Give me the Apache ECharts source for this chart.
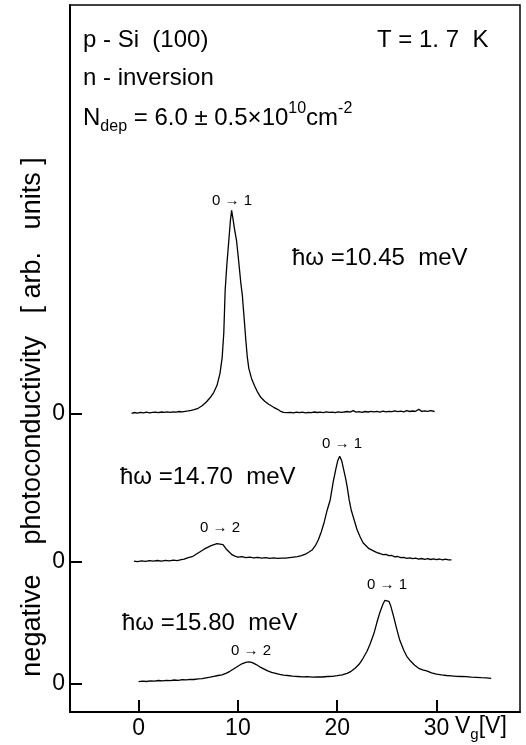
<!DOCTYPE html>
<html><head><meta charset="utf-8">
<script src="https://cdn.jsdelivr.net/npm/echarts@6/dist/echarts.min.js"></script>
<style>html,body{margin:0;padding:0;background:#fff}#c{width:526px;height:745px}</style>
</head><body><div id="c"></div>
<script>
// Vg [V] , signal (arb. units, offset from each trace's own zero)
const trace1045 = [[-0.7,0],[-0.4,0.8],[-0.1,0.2],[0.2,1.0],[0.5,0.4],[0.8,1.1],[1.1,0.5],[1.4,0.9],[1.7,1.2],[2.0,0.7],[2.3,1.3],[2.6,0.9],[2.9,1.4],[3.2,1.0],[3.5,1.5],[3.8,1.2],[4.1,1.8],[4.4,1.4],[4.7,2.0],[5.0,2.4],[5.3,2.9],[5.6,3.6],
[6.0,5],[6.4,7.5],[6.8,11],[7.2,15.5],[7.58,21],[7.9,28],[8.2,40],[8.42,56],[8.58,80],[8.72,123],[8.9,150],[9.09,173],[9.25,193],[9.37,203],[9.5,195],[9.65,185],[9.86,173],[10.0,160],[10.15,145],[10.3,130],[10.45,118],[10.55,105],[10.67,90],[10.8,73],[10.94,57],[11.1,45],[11.4,34],[11.7,27],[11.94,22],[12.3,16],[12.7,12],[13.1,9],[13.6,6],[14.0,4],[14.3,2],[14.6,1],
[15.0,0.6],[15.3,1.0],[15.6,0.4],[15.9,1.1],[16.2,0.6],[16.5,1.2],[16.8,0.5],[17.1,1.0],[17.4,0.7],[17.7,1.3],[18.0,0.8],[18.3,1.1],[18.6,0.6],[18.9,1.4],[19.2,0.9],[19.5,1.2],[19.8,0.7],[20.1,1.5],[20.4,1.0],[20.7,1.3],[21.0,1.8],[21.3,1.1],[21.6,2.6],[21.9,1.2],[22.2,1.6],[22.5,1.0],[22.8,1.8],[23.1,1.3],[23.4,2.0],[23.7,1.4],[24.0,1.9],[24.3,1.2],[24.6,2.2],[24.9,1.5],[25.2,2.0],[25.5,1.6],[25.8,2.4],[26.1,1.7],[26.4,2.2],[26.7,1.5],[27.0,2.6],[27.3,1.8],[27.6,2.3],[27.9,2.0],[28.2,4.0],[28.5,1.9],[28.8,2.5],[29.1,2.0],[29.4,2.6],[29.8,1.8]];

const trace1470 = [[-0.47,0.5],[-0.1,0],[0.3,0.8],[0.7,0.3],[1.1,1.0],[1.5,0.5],[1.9,1.2],[2.3,0.6],[2.7,1.4],[3.1,0.9],[3.5,1.6],[3.9,1.1],[4.3,2.0],[4.6,2.5],[5.0,4.0],[5.4,5.0],[5.8,7.5],[6.2,10],[6.6,12.5],[7.0,14.5],[7.3,16],[7.6,17],[7.9,18],[8.2,17.5],[8.5,17],[8.8,13],[9.1,10],[9.4,7],[9.7,5.5],[10.0,4.5],[10.4,5.0],[10.8,4.0],[11.2,4.6],[11.6,3.8],[12.0,4.3],[12.4,3.5],[12.8,4.0],[13.2,3.4],[13.6,3.8],[14.0,3.3],[14.4,3.6],[14.8,3.5],[15.2,4.0],[15.6,4.5],[16.0,5.0],[16.4,6],[16.8,7.5],[17.2,10],[17.5,12],[17.8,16],[18.1,22],[18.4,30],[18.7,40],[19.0,52],[19.3,62],[19.6,80],[19.85,92],[20.05,101],[20.25,105.5],[20.45,101],[20.65,92],[20.85,83],[21.0,75],[21.2,62],[21.4,52],[21.7,42],[22.0,32],[22.3,25],[22.6,19],[22.9,16],[23.2,13],[23.6,11],[24.0,9],[24.3,8.2],[24.6,7.0],[24.9,7.4],[25.2,6.0],[25.5,6.2],[25.8,4.8],[26.1,5.2],[26.4,4.0],[26.7,4.4],[27.0,3.4],[27.3,3.9],[27.6,3.0],[27.9,3.5],[28.2,2.6],[28.5,3.2],[28.8,2.4],[29.1,3.0],[29.4,2.2],[29.7,2.9],[30.0,2.1],[30.3,2.7],[30.6,1.8],[30.9,2.6],[31.2,1.9],[31.5,1.8]];

const trace1580 = [[0,1.6],[0.4,2.2],[0.8,1.8],[1.2,2.5],[1.6,2.1],[2.0,2.8],[2.4,2.4],[2.8,3.0],[3.2,2.7],[3.6,3.3],[4.0,3.0],[4.4,3.6],[4.8,3.4],[5.2,4.0],[5.6,3.8],[6.0,4.4],[6.4,4.6],[6.8,5.5],[7.2,6.2],[7.6,7.0],[8.0,7.8],[8.4,8.5],[8.8,10],[9.2,12],[9.6,14.5],[10.0,17],[10.4,19.5],[10.8,21],[11.1,21.5],[11.4,21],[11.8,19],[12.2,16.5],[12.6,14.5],[13.0,12.5],[13.4,11],[13.8,10],[14.2,9],[14.6,8.2],[15.0,7.8],[15.5,7.2],[16.0,6.8],[16.5,6.4],[17.0,6.6],[17.5,6.2],[18.0,6.5],[18.5,6.3],[19.0,6.8],[19.5,7.0],[20.0,7.6],[20.5,8.5],[21.0,10],[21.4,12],[21.8,15],[22.2,19],[22.6,25],[23.0,32],[23.3,39],[23.7,50],[24.0,61],[24.3,71],[24.6,79],[24.8,83],[25.0,84],[25.2,82],[25.4,77],[25.7,66],[26.0,54],[26.3,43],[26.7,33],[27.0,27],[27.4,22],[27.8,18],[28.2,15],[28.6,13.5],[29.0,12.5],[29.5,10.5],[30.0,9.2],[30.5,8.4],[31.0,7.8],[31.5,7.5],[32.0,7.0],[32.5,6.8],[33.0,6.6],[33.5,6.2],[34.0,6.0],[34.5,5.6],[35.0,5.4],[35.5,5.0]];

const xTicks = [0, 10, 20, 30];
const zeroTick = [0];
const annotations = ['0 → 1', '0 → 2'];

const FONT = 'Liberation Sans, DejaVu Sans, sans-serif';
const chart = echarts.init(document.getElementById('c'), null, {renderer:'canvas'});

const gridTop = 5, gridBottomPx = 712;
// pixel rows of each trace's zero line
const zeroRows = [413.3, 561.7, 683.3];
function yAx(i){
  const b = zeroRows[i];
  return {
    type:'value', position:'left', gridIndex:0,
    min: -(gridBottomPx - b), max: b - gridTop,
    axisLine:{show: i===0, onZero:false, lineStyle:{color:'#000', width:2}},
    splitLine:{show:false},
    axisTick:{show:true, inside:true, length:12, customValues: zeroTick, lineStyle:{color:'#000', width:2}},
    axisLabel:{show:true, customValues: zeroTick, fontSize:23, color:'#000', margin:5, fontFamily:FONT}
  };
}
const lineStyle = {color:'#000', width:1.3};
function txt(x, y, text, size, align, extra){
  return Object.assign({type:'text', x:x, y:y, silent:true,
    style:{text:text, font: size+'px '+FONT, fill:'#000', align:align||'left', verticalAlign:'middle'}}, extra||{});
}

chart.setOption({
  animation:false,
  backgroundColor:'#fff',
  grid:{left:70, right:6, top:gridTop, bottom:745-gridBottomPx, show:true, borderColor:'#000', borderWidth:1.5},
  xAxis:{type:'value', min:-6.9, max:38.4,
    axisLine:{onZero:false, lineStyle:{color:'#000', width:2}},
    splitLine:{show:false},
    axisTick:{show:true, inside:true, length:12, customValues:xTicks, lineStyle:{color:'#000', width:2}},
    axisLabel:{customValues:xTicks, fontSize:23, color:'#000', margin:5, fontFamily:FONT}
  },
  yAxis:[yAx(0), yAx(1), yAx(2)],
  series:[
    {type:'line', yAxisIndex:0, data:trace1045, showSymbol:false, lineStyle:lineStyle},
    {type:'line', yAxisIndex:1, data:trace1470, showSymbol:false, lineStyle:lineStyle},
    {type:'line', yAxisIndex:2, data:trace1580, showSymbol:false, lineStyle:lineStyle}
  ],
  graphic:[
    txt(83, 40, 'p - Si  (100)', 24),
    txt(377, 40, 'T = 1. 7  K', 24),
    txt(83, 78, 'n - inversion', 24),
    {type:'text', x:83, y:118, silent:true, style:{
      text:'{a|N}{s|dep}{a| = 6.0 ± 0.5×10}{p|10}{a|cm}{p|-2}',
      font:'24px '+FONT, fill:'#000', verticalAlign:'middle',
      rich:{
        a:{fontSize:24, fontFamily:FONT, lineHeight:34, verticalAlign:'middle'},
        s:{fontSize:16, fontFamily:FONT, lineHeight:34, verticalAlign:'bottom'},
        p:{fontSize:16, fontFamily:FONT, lineHeight:34, verticalAlign:'top'}
      }}},
    txt(232, 201, annotations[0], 15, 'center'),
    txt(292, 258, 'ħω =10.45  meV', 24),
    txt(342, 444, annotations[0], 15, 'center'),
    txt(120, 477, 'ħω =14.70  meV', 24),
    txt(220, 528, annotations[1], 15, 'center'),
    txt(122, 623, 'ħω =15.80  meV', 24),
    txt(251, 651, annotations[1], 15, 'center'),
    txt(387, 585, annotations[0], 15, 'center'),
    {type:'text', x:455, y:727, silent:true, style:{
      text:'{a|V}{s|g}{a|[V]}', font:'23px '+FONT, fill:'#000', verticalAlign:'middle',
      rich:{a:{fontSize:23, fontFamily:FONT, lineHeight:30, verticalAlign:'middle'},
            s:{fontSize:15, fontFamily:FONT, lineHeight:30, verticalAlign:'bottom'}}}},
    txt(33, 417, 'negative    photoconductivity   [ arb.   units ]', 27, 'center', {rotation: Math.PI/2})
  ]
});
</script></body></html>
